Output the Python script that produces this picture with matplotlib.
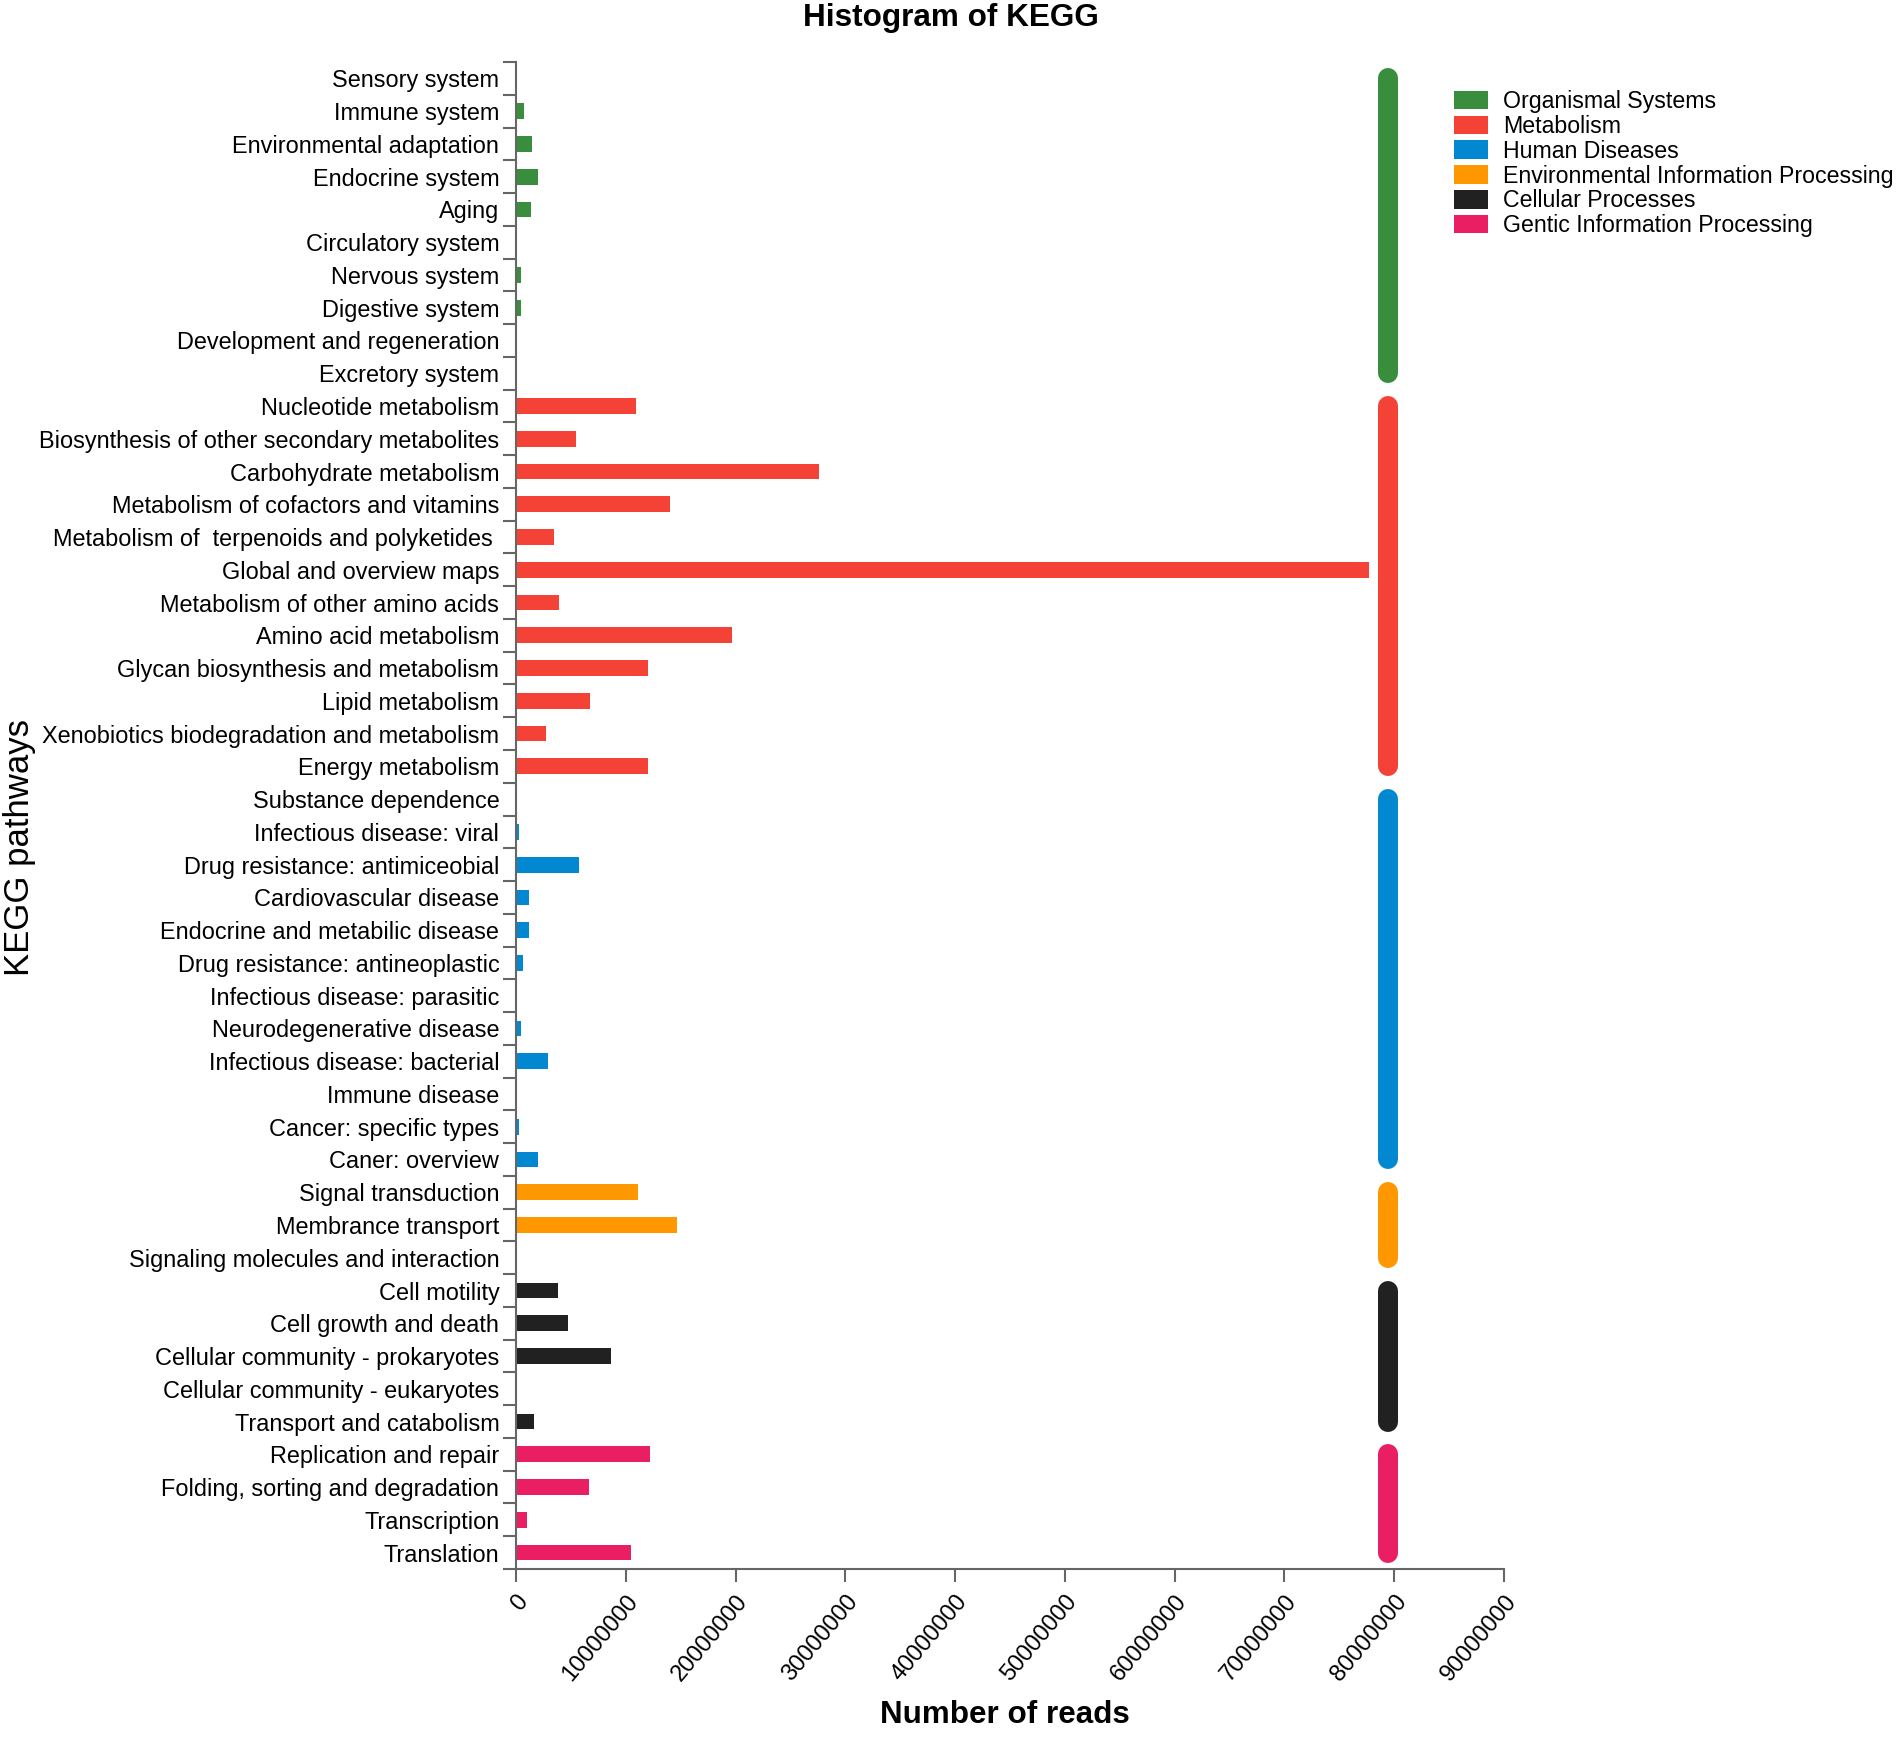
import numpy as np
import matplotlib
matplotlib.use("Agg")
import matplotlib.pyplot as plt
from matplotlib.patches import Patch

plt.rcParams['font.family'] = ['Liberation Sans', 'DejaVu Sans']

# KEGG level-2 pathways, top to bottom
pathways = [
    "Sensory system", "Immune system", "Environmental adaptation", "Endocrine system",
    "Aging", "Circulatory system", "Nervous system", "Digestive system",
    "Development and regeneration", "Excretory system",
    "Nucleotide metabolism", "Biosynthesis of other secondary metabolites",
    "Carbohydrate metabolism", "Metabolism of cofactors and vitamins",
    "Metabolism of  terpenoids and polyketides ", "Global and overview maps",
    "Metabolism of other amino acids", "Amino acid metabolism",
    "Glycan biosynthesis and metabolism", "Lipid metabolism",
    "Xenobiotics biodegradation and metabolism", "Energy metabolism",
    "Substance dependence", "Infectious disease: viral", "Drug resistance: antimiceobial",
    "Cardiovascular disease", "Endocrine and metabilic disease",
    "Drug resistance: antineoplastic", "Infectious disease: parasitic",
    "Neurodegenerative disease", "Infectious disease: bacterial", "Immune disease",
    "Cancer: specific types", "Caner: overview",
    "Signal transduction", "Membrance transport", "Signaling molecules and interaction",
    "Cell motility", "Cell growth and death", "Cellular community - prokaryotes",
    "Cellular community - eukaryotes", "Transport and catabolism",
    "Replication and repair", "Folding, sorting and degradation", "Transcription",
    "Translation",
]

# number of reads
reads = [
    0, 760000, 1490000, 2040000, 1340000, 0, 430000, 430000, 0, 0,
    10970000, 5440000, 27600000, 14000000, 3430000, 77700000,
    3900000, 19700000, 12060000, 6700000, 2730000, 12060000,
    0, 270000, 5770000, 1150000, 1150000, 600000, 0, 430000, 2920000, 0, 240000, 2040000,
    11150000, 14700000, 0,
    3800000, 4710000, 8630000, 0, 1640000,
    12200000, 6690000, 970000, 10450000,
]

group_names = ["Organismal Systems", "Metabolism", "Human Diseases",
               "Environmental Information Processing", "Cellular Processes",
               "Gentic Information Processing"]
group_sizes = [10, 12, 12, 3, 5, 4]
group_colors = ["#388E3C", "#F44336", "#0288D1", "#FF9800", "#212121", "#E91E63"]

W, H = 1900, 1738
fig = plt.figure(figsize=(W / 100, H / 100), dpi=100)
ax = fig.add_axes([516 / W, 1 - 1569 / H, (1504 - 516) / W, (1569 - 62) / H])

n = len(pathways)
ypos = np.arange(n)
bar_colors = []
for c, s in zip(group_colors, group_sizes):
    bar_colors += [c] * s

ax.barh(ypos, reads, height=0.48, color=bar_colors, edgecolor='none')

# group strips on the right
xline = 79400000
start = 0
for c, s in zip(group_colors, group_sizes):
    ax.plot([xline, xline], [start, start + s - 1], color=c, lw=14.4,
            solid_capstyle='round', clip_on=False)
    start += s

ax.set_xlim(0, 90000000)
ax.set_ylim(n - 0.5, -0.5)

spine_col = '#666666'
for side in ['top', 'right']:
    ax.spines[side].set_visible(False)
for side in ['left', 'bottom']:
    ax.spines[side].set_color(spine_col)
    ax.spines[side].set_linewidth(1.5)

ax.set_yticks(ypos)
ax.set_yticklabels(pathways, fontsize=16.9)
ax.set_yticks(np.arange(n + 1) - 0.5, minor=True)
ax.tick_params(axis='y', which='major', length=0, pad=12)
ax.tick_params(axis='y', which='minor', length=9.5, width=1.5, color=spine_col)

xt = np.arange(0, 90000001, 10000000)
ax.set_xticks(xt)
ax.set_xticklabels([str(v) for v in xt], fontsize=17, rotation=50,
                   ha='right', va='top', rotation_mode='anchor')
ax.tick_params(axis='x', length=9.5, width=1.5, color=spine_col, pad=6)

fig.text(951 / W, 1 - 18 / H, "Histogram of KEGG", ha='center', va='center',
         fontsize=22.7, fontweight='bold')
fig.text(1005 / W, 1 - 1715 / H, "Number of reads", ha='center', va='center',
         fontsize=22.6, fontweight='bold')
fig.text(20 / W, 1 - 848 / H, "KEGG pathways", ha='center', va='center',
         rotation=90, fontsize=25)

handles = [Patch(facecolor=c, edgecolor='none', label=g)
           for c, g in zip(group_colors, group_names)]
fig.legend(handles=handles, loc='upper left', bbox_to_anchor=(1454 / W, 1 - 90 / H),
           frameon=False, fontsize=16.7, borderpad=0, borderaxespad=0,
           handlelength=1.45, handleheight=0.85, labelspacing=0.08, handletextpad=0.65)

fig.savefig("out.png", dpi=100)
